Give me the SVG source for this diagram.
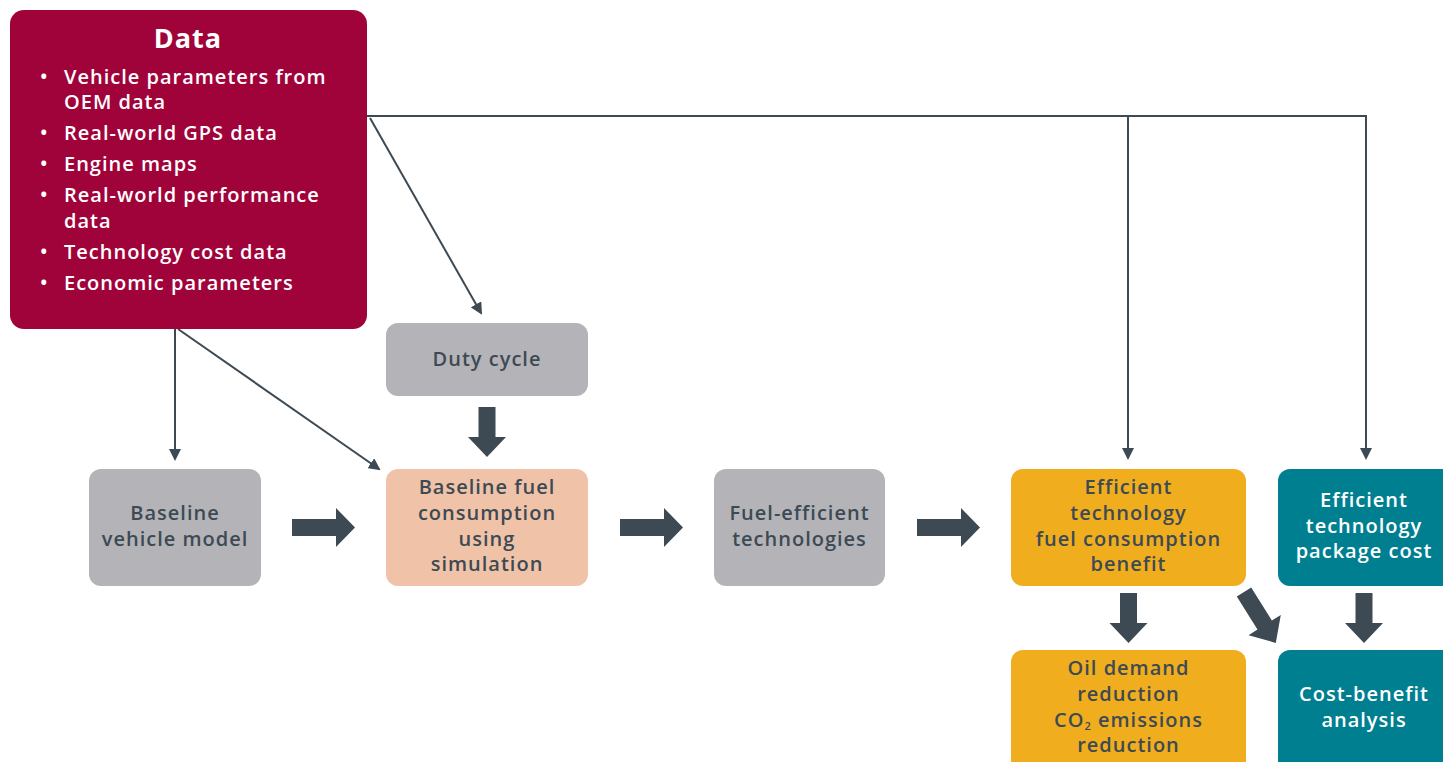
<svg xmlns="http://www.w3.org/2000/svg" width="1443" height="762" viewBox="0 0 1443 762">
<defs>
<marker id="ah" markerWidth="12" markerHeight="12" refX="10" refY="6" orient="auto" markerUnits="userSpaceOnUse">
<path d="M0,0 L12,6 L0,12 Z" fill="#3d4a54"/>
</marker>
<path id="barrow" d="M0,-8.5 L44,-8.5 L44,-19.5 L63,0 L44,19.5 L44,8.5 L0,8.5 Z"/>
<path id="darrow" d="M-8.5,0 L8.5,0 L8.5,30 L19,30 L0,50 L-19,30 L-8.5,30 Z"/>
<path id="dlong" d="M-8.5,0 L8.5,0 L8.5,39 L19,39 L0,60 L-19,39 L-8.5,39 Z"/>
</defs>
<style>
text{font-family:"Open Sans","Liberation Sans",sans-serif;font-weight:600;font-size:20px;text-anchor:middle;letter-spacing:1px}
.dk{fill:#3d4a54}
.wt{fill:#ffffff}
.gray{fill:#b4b4b8}
.line{fill:none;stroke:#3d4a54;stroke-width:2}
.blk{fill:#3d4a54}
.l{text-anchor:start}
</style>
<rect width="1443" height="762" fill="#ffffff"/>

<g id="connectors">
<path class="line" d="M367,116 H1366 V458" marker-end="url(#ah)"/>
<path class="line" d="M1128,116 V458" marker-end="url(#ah)"/>
<path class="line" d="M370,118 L481,313" marker-end="url(#ah)"/>
<path class="line" d="M175,329 V459" marker-end="url(#ah)"/>
<path class="line" d="M178,329 L379,469" marker-end="url(#ah)"/>
<use href="#barrow" class="blk" x="292" y="527.5"/>
<use href="#barrow" class="blk" x="620" y="527.5"/>
<use href="#barrow" class="blk" x="917" y="527.5"/>
<use href="#darrow" class="blk" x="487" y="407"/>
<use href="#darrow" class="blk" x="1128.5" y="593"/>
<use href="#darrow" class="blk" x="1364" y="593"/>
<use href="#dlong" class="blk" transform="translate(1244,592) rotate(-32)"/>
</g>

<g id="data">
<rect x="10" y="10" width="357" height="319" rx="14" fill="#a0033a"/>
<text class="wt" x="188" y="48" style="font-size:27px;font-weight:700">Data</text>
<g class="wt">
<text class="l" x="40" y="84">•</text>
<text class="l" x="64" y="84">Vehicle parameters from</text>
<text class="l" x="64" y="109">OEM data</text>
<text class="l" x="40" y="140">•</text>
<text class="l" x="64" y="140">Real-world GPS data</text>
<text class="l" x="40" y="171">•</text>
<text class="l" x="64" y="171">Engine maps</text>
<text class="l" x="40" y="202">•</text>
<text class="l" x="64" y="202">Real-world performance</text>
<text class="l" x="64" y="228">data</text>
<text class="l" x="40" y="259">•</text>
<text class="l" x="64" y="259">Technology cost data</text>
<text class="l" x="40" y="290">•</text>
<text class="l" x="64" y="290">Economic parameters</text>
</g>
</g>

<g id="duty">
<rect x="386" y="323" width="202" height="73" rx="12" class="gray"/>
<text class="dk" x="487" y="366">Duty cycle</text>
</g>

<g id="baseline-vehicle">
<rect x="89" y="469" width="172" height="117" rx="12" class="gray"/>
<text class="dk" x="175" y="520">Baseline</text>
<text class="dk" x="175" y="546">vehicle model</text>
</g>

<g id="baseline-fuel">
<rect x="386" y="469" width="202" height="117" rx="12" fill="#f0c3a8"/>
<text class="dk" x="487" y="494">Baseline fuel</text>
<text class="dk" x="487" y="520">consumption</text>
<text class="dk" x="487" y="546">using</text>
<text class="dk" x="487" y="571">simulation</text>
</g>

<g id="fuel-eff">
<rect x="714" y="469" width="171" height="117" rx="12" class="gray"/>
<text class="dk" x="799.5" y="520">Fuel-efficient</text>
<text class="dk" x="799.5" y="546">technologies</text>
</g>

<g id="benefit">
<rect x="1011" y="469" width="235" height="117" rx="12" fill="#f0ae1e"/>
<text class="dk" x="1128.5" y="494">Efficient</text>
<text class="dk" x="1128.5" y="520">technology</text>
<text class="dk" x="1128.5" y="546">fuel consumption</text>
<text class="dk" x="1128.5" y="571">benefit</text>
</g>

<g id="package-cost">
<rect x="1278" y="469" width="190" height="117" rx="12" fill="#007f91"/>
<text class="wt" x="1364" y="507">Efficient</text>
<text class="wt" x="1364" y="533">technology</text>
<text class="wt" x="1364" y="558">package cost</text>
</g>

<g id="oil">
<rect x="1011" y="650" width="235" height="130" rx="12" fill="#f0ae1e"/>
<text class="dk" x="1128.5" y="675">Oil demand</text>
<text class="dk" x="1128.5" y="701">reduction</text>
<text class="dk" x="1128.5" y="727">CO<tspan baseline-shift="-3" style="font-size:11px">2</tspan> emissions</text>
<text class="dk" x="1128.5" y="752">reduction</text>
</g>

<g id="cost-benefit">
<rect x="1278" y="650" width="190" height="130" rx="12" fill="#007f91"/>
<text class="wt" x="1364" y="701">Cost-benefit</text>
<text class="wt" x="1364" y="727">analysis</text>
</g>
</svg>
